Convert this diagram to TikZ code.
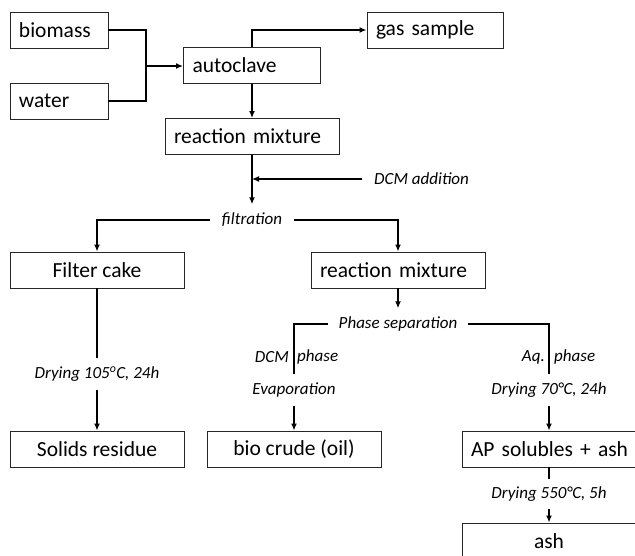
\documentclass[tikz,border=0pt]{standalone}
\usepackage{fontspec}
\setmainfont{Carlito}
\usetikzlibrary{arrows.meta}

\newcommand{\boxfont}{\fontsize{21.5}{24}\selectfont}
\newcommand{\lblfont}{\fontsize{17}{19}\selectfont\itshape}

\begin{document}
\begin{tikzpicture}[x=1pt, y=-1pt,
    box/.style={draw=black!85, line width=0.9pt, minimum height=36pt, inner xsep=9pt, inner ysep=2pt, font=\boxfont},
    lbox/.style={box, text width=#1, align=left},
    cbox/.style={box, minimum width=174pt},
    lbl/.style={font=\lblfont, inner xsep=12pt, inner ysep=0pt, minimum height=31pt},
    side/.style={font=\lblfont, inner sep=2pt},
    wire/.style={line width=1.6pt},
    flow/.style={wire, -{Latex[length=7pt,width=6pt]}}]
            \clip (0,0) rectangle (635,555);

            % Feed and reactor
            \node[lbox=80pt] (biomass) at (59,30) {biomass};
            \node[lbox=80pt] (water) at (59,101) {water};
            \coordinate (mix) at (146,66);
            \node[lbox=119pt] (autoclave) at (252,65.5) {autoclave};
            \node[lbox=118pt] (gas) at (435,30) {gas sample};
            \node[lbox=156pt] (rmix1) at (252,136.5) {reaction mixture};

            % Filtration step
            \node[lbl] (filt) at (252,220) {filtration};
            \node[side, anchor=west, inner xsep=12pt] (dcm) at (362,179) {DCM addition};
            \node[cbox] (cake) at (97,270) {Filter cake};
            \node[lbox=156pt] (rmix2) at (398,270) {reaction mixture};

            % Solids branch
            \node[lbl] (dry105) at (97,374) {Drying 105\textsuperscript{o}C, 24h};
            \node[cbox] (solids) at (97,449) {Solids residue};

            % Phase separation
            \node[lbl, inner xsep=11pt] (phase) at (398,324) {Phase separation};
            \node[lbl] (evap) at (294,390) {Evaporation};
            \node[lbl] (dry70) at (549,390) {Drying 70°C, 24h};
            \node[side, anchor=east] (dcmL) at (291,357) {DCM};
            \node[side, anchor=west] (dcmR) at (295,357) {phase};
            \node[side, anchor=east] (aqL) at (547,357) {Aq.};
            \node[side, anchor=west] (aqR) at (552,357) {phase};
            \node[cbox] (crude) at (294,449) {bio crude (oil)};
            \node[lbox=156pt] (ap) at (549,449) {\mbox{AP solubles + ash}};
            \node[lbl, minimum height=29pt] (dry550) at (549,494) {Drying 550°C, 5h};
            \node[cbox] (ash) at (549,541) {ash};

            % Connectors
            \draw[wire] (biomass.east) -| (mix);
            \draw[wire] (water.east) -| (mix);
            \draw[flow] (mix) -- (mix -| autoclave.west);
            \draw[flow] (autoclave.north) |- (gas.west);
            \draw[flow] (autoclave) -- (rmix1);
            \draw[flow] (rmix1) -- (filt);
            \draw[flow] (dcm.west) -- (dcm.west -| rmix1.south);
            \draw[flow] (filt.west) -| (cake.north);
            \draw[flow] (filt.east) -| (rmix2.north);
            \draw[wire] (cake) -- (dry105);
            \draw[flow] (dry105) -- (solids);
            \draw[flow] (rmix2) -- (phase);
            \draw[wire] (phase.west) -| (evap.north);
            \draw[wire] (phase.east) -| (dry70.north);
            \draw[flow] (evap) -- (crude);
            \draw[flow] (dry70) -- (ap);
            \draw[wire] (ap) -- (dry550);
            \draw[flow] (dry550) -- (ash);
\end{tikzpicture}
\end{document}
